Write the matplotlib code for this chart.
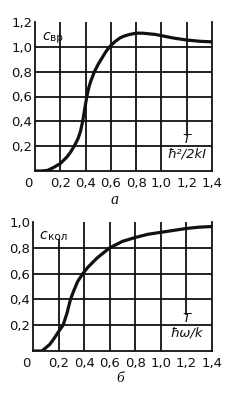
import matplotlib
matplotlib.use("Agg")
import matplotlib.pyplot as plt

# ---- data ----
t_rot = [0, 0.05, 0.1, 0.15, 0.2, 0.25, 0.28, 0.31, 0.34, 0.36, 0.377, 0.39, 0.40, 0.41,
         0.425, 0.44, 0.47, 0.5, 0.53, 0.56, 0.59, 0.63, 0.67, 0.7, 0.75, 0.8, 0.85,
         0.9, 0.95, 1.0, 1.1, 1.2, 1.3, 1.4]
c_rot = [0, 0, 0.005, 0.03, 0.06, 0.11, 0.15, 0.2, 0.26, 0.32, 0.4, 0.48, 0.54, 0.6,
         0.67, 0.72, 0.8, 0.86, 0.91, 0.96, 1.0, 1.04, 1.07, 1.085, 1.1, 1.11, 1.11,
         1.105, 1.1, 1.09, 1.07, 1.055, 1.045, 1.04]

t_vib = [0, 0.07, 0.1, 0.13, 0.16, 0.2, 0.235, 0.265, 0.293, 0.32, 0.35, 0.39, 0.43,
         0.47, 0.5, 0.55, 0.6, 0.7, 0.8, 0.9, 1.0, 1.1, 1.2, 1.3, 1.4]
c_vib = [0, 0, 0.025, 0.05, 0.09, 0.15, 0.2, 0.29, 0.4, 0.47, 0.54, 0.6, 0.65,
         0.69, 0.72, 0.76, 0.8, 0.85, 0.88, 0.905, 0.92, 0.935, 0.95, 0.96, 0.965]

x_ticks = [0.2, 0.4, 0.6, 0.8, 1.0, 1.2, 1.4]
x_ticklabels = ["0,2", "0,4", "0,6", "0,8", "1,0", "1,2", "1,4"]
y_ticks_top = [0.2, 0.4, 0.6, 0.8, 1.0, 1.2]
y_ticklabels_top = ["0,2", "0,4", "0,6", "0,8", "1,0", "1,2"]
y_ticks_bot = [0.2, 0.4, 0.6, 0.8, 1.0]
y_ticklabels_bot = ["0,2", "0,4", "0,6", "0,8", "1,0"]

FONT = ["Liberation Sans Narrow", "DejaVu Sans"]
plt.rcParams["font.family"] = FONT

fig = plt.figure(figsize=(2.42, 4.0), dpi=100)
ax1 = fig.add_axes([35/242, 1-171/400, 177/242, 149/400])
ax2 = fig.add_axes([33/242, 1-351/400, 179/242, 129/400])

GLW = 1.3
K = "#111111"


def setup(ax, yt, ytl, ymax, cut_v12=0.29, cut_v02=None):
    ax.set_xlim(0, 1.4)
    ax.set_ylim(0, ymax)
    ax.spines["top"].set_visible(False)
    for s in ["left", "bottom", "right"]:
        ax.spines[s].set_linewidth(GLW)
        ax.spines[s].set_color(K)
    ax.set_xticks(x_ticks)
    ax.set_xticklabels(x_ticklabels)
    ax.set_yticks(yt)
    ax.set_yticklabels(ytl)
    ax.tick_params(length=0, labelsize=9.5, colors=K)
    ax.tick_params(axis="x", pad=4.5)
    ax.tick_params(axis="y", pad=2)
    for xv in x_ticks[:-1]:
        lo = 0.0
        hi = 1.0
        if abs(xv - 1.2) < 1e-9:
            lo = cut_v12 / ymax
        if cut_v02 is not None and abs(xv - 0.2) < 1e-9:
            hi = cut_v02 / ymax
        ax.axvline(xv, ymin=lo, ymax=hi, color=K, lw=GLW, zorder=1)
    for yv in yt[:-1]:
        ax.axhline(yv, color=K, lw=GLW, zorder=1)
    ax.annotate("0", xy=(0, 0), xycoords="data", xytext=(-2, -4.5),
                textcoords="offset points", ha="right", va="top",
                fontsize=9.5, color=K)


setup(ax1, y_ticks_top, y_ticklabels_top, 1.2)
setup(ax2, y_ticks_bot, y_ticklabels_bot, 1.0, cut_v02=0.86)

ax1.plot(t_rot, c_rot, color=K, lw=2.3, solid_capstyle="round",
         solid_joinstyle="round", zorder=3)
ax2.plot(t_vib, c_vib, color=K, lw=2.3, solid_capstyle="round",
         solid_joinstyle="round", zorder=3)

# y-quantity labels
ax1.text(0.055, 1.09, "c", style="italic", fontsize=10, color=K, ha="left", va="center",
         family=["DejaVu Sans"])
ax1.text(0.12, 1.075, "вр", fontsize=7.5, color=K, ha="left", va="center")
ax2.text(0.05, 0.9, "c", style="italic", fontsize=10, color=K, ha="left", va="center",
         family=["DejaVu Sans"])
ax2.text(0.115, 0.885, "кол", fontsize=7.5, color=K, ha="left", va="center")

# x-quantity fraction labels
ax1.text(1.2, 0.205, "T", style="italic", fontsize=9.5, color=K, ha="center", va="bottom",
         family=["DejaVu Sans"])
ax1.text(1.2, 0.19, "ħ²/2kI", style="italic", fontsize=9.5, color=K, ha="center", va="top",
         family=["DejaVu Sans"])
ax2.text(1.2, 0.205, "T", style="italic", fontsize=9.5, color=K, ha="center", va="bottom",
         family=["DejaVu Sans"])
ax2.text(1.2, 0.19, "ħω/k", style="italic", fontsize=9.5, color=K, ha="center", va="top",
         family=["DejaVu Sans"])

# panel letters
fig.text(115/242, 1-200/400, "а", style="italic", fontsize=11.5, color=K, ha="center",
         va="center", family=["Liberation Serif", "DejaVu Serif"])
fig.text(120/242, 1-379/400, "б", style="italic", fontsize=11, color=K, ha="center",
         va="center", family=["Liberation Serif", "DejaVu Serif"])

fig.savefig("out.png", dpi=100)
